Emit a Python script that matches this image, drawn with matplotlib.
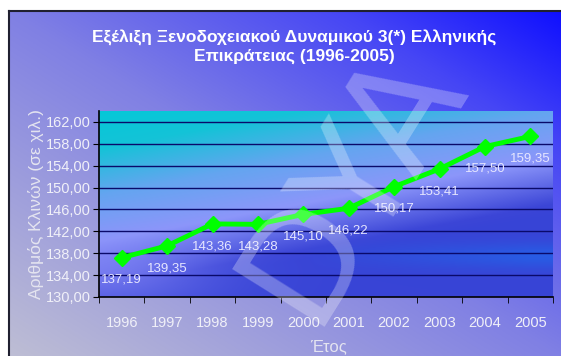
import numpy as np
import matplotlib
matplotlib.use("Agg")
import matplotlib.pyplot as plt
from matplotlib.ticker import FixedLocator, FuncFormatter

years = ["1996", "1997", "1998", "1999", "2000", "2001", "2002", "2003", "2004", "2005"]
beds = [137.19, 139.35, 143.36, 143.28, 145.10, 146.22, 150.17, 153.41, 157.50, 159.35]
y_ticks = [130, 134, 138, 142, 146, 150, 154, 158, 162]

title = "Εξέλιξη Ξενοδοχειακού Δυναμικού 3(*) Ελληνικής\nΕπικράτειας (1996-2005)"
y_label = "Αριθμός Κλινών (σε χιλ.)"
x_label = "Έτος"

plt.rcParams['font.family'] = ['Liberation Sans', 'DejaVu Sans']

W, H = 561, 356
fig = plt.figure(figsize=(W / 100, H / 100), dpi=100)
fig.patch.set_facecolor("white")


def px(x0, y0, x1, y1):
    # pixel box (top-left origin) -> figure fraction rect
    return [x0 / W, 1 - y1 / H, (x1 - x0) / W, (y1 - y0) / H]


def lerp_colors(t, stops):
    t = np.clip(t, 0, 1)
    pos = np.array([s[0] for s in stops])
    cols = np.array([s[1] for s in stops], dtype=float) / 255.0
    out = np.zeros(t.shape + (3,))
    for c in range(3):
        out[..., c] = np.interp(t, pos, cols[:, c])
    return out


# chart-area background: diagonal grey-lavender -> blue
bg = fig.add_axes(px(9, 11, W + 2, H + 2))
gx, gy = np.meshgrid(np.linspace(0, 1, 300), np.linspace(0, 1, 200))
t = (gx + (1 - gy)) / 2  # gy=0 at top
bg_img = lerp_colors(t, [(0.0, (190, 190, 212)), (0.5, (128, 128, 228)),
                         (0.8, (70, 70, 245)), (1.0, (15, 15, 255))])
bg.imshow(bg_img, aspect="auto", extent=(0, 1, 0, 1), origin="upper")
bg.set_xlim(0, 1)
bg.set_ylim(0, 1)
bg.set_xticks([])
bg.set_yticks([])
for side in ("right", "bottom"):
    bg.spines[side].set_visible(False)
for side in ("left", "top"):
    bg.spines[side].set_color("#202030")
    bg.spines[side].set_linewidth(1.5)

# plot area
ax = fig.add_axes(px(99, 111, 553, 297))
ax.patch.set_alpha(0)
px_x, px_y = np.meshgrid(np.linspace(0, 1, 300), np.linspace(0, 1, 200))
d = px_y - 0.45 * px_x  # px_y=1 at top
plot_img = lerp_colors(d, [(-0.45, (25, 95, 150)), (-0.2, (40, 60, 210)), (0.05, (60, 70, 215)),
                           (0.3, (140, 150, 250)), (0.55, (100, 165, 240)),
                           (0.8, (20, 195, 215)), (1.0, (5, 200, 215))])
streak = np.exp(-((px_y - 0.22) / 0.07) ** 2) * np.clip((px_x - 0.45) * 2, 0, 1)
plot_img = plot_img * (1 - 0.5 * streak[..., None]) + np.array([0.1, 0.45, 0.95]) * 0.5 * streak[..., None]
corner = np.exp(-(((px_x - 0.0) / 0.25) ** 2 + ((px_y - 0.12) / 0.2) ** 2))
plot_img = plot_img * (1 - 0.6 * corner[..., None]) + np.array([0.55, 0.56, 0.98]) * 0.6 * corner[..., None]
ax.imshow(plot_img, aspect="auto", extent=(-0.5, len(years) - 0.5, 130, 164),
          origin="lower", zorder=0)

x = np.arange(len(years))
ax.set_xlim(-0.5, len(years) - 0.5)
ax.set_ylim(130, 164)

for v in y_ticks[1:]:
    ax.axhline(v, color="#0a0a6a", lw=1.0, zorder=1)

ax.plot(x, beds, color="#00ff00", lw=3.5, marker="D", markersize=8,
        markeredgecolor="#00ff00", zorder=3)
for xi, v in zip(x, beds):
    ax.annotate(f"{v:.2f}".replace(".", ","), (xi, v), xytext=(0, -16),
                textcoords="offset points", ha="center", va="center",
                color="#e6e6ff", fontsize=9.5, zorder=4)

ax.yaxis.set_major_locator(FixedLocator(y_ticks))
ax.yaxis.set_major_formatter(FuncFormatter(lambda v, p: f"{v:.2f}".replace(".", ",")))
ax.xaxis.set_major_locator(FixedLocator(x))
ax.set_xticklabels(years)
ax.xaxis.set_minor_locator(FixedLocator(np.arange(len(years) + 1) - 0.5))
ax.tick_params(axis="x", which="major", length=0, pad=14, labelsize=10.5, labelcolor="#f0f0f8")
ax.tick_params(axis="x", which="minor", length=4, color="black", direction="out")
ax.tick_params(axis="y", length=4, color="black", labelsize=10.5, labelcolor="#f0f0f8", pad=2)
for side in ("top", "right"):
    ax.spines[side].set_visible(False)
for side in ("left", "bottom"):
    ax.spines[side].set_color("black")
    ax.spines[side].set_linewidth(1.2)

fig.text(294 / W, 1 - 47 / H, title, ha="center", va="center", color="white",
         fontsize=12.5, fontweight="bold", linespacing=1.3)
fig.text(36 / W, 1 - 204 / H, y_label, rotation=90, ha="center", va="center",
         color="#e4e4f0", fontsize=12.5)
fig.text(328 / W, 1 - 347 / H, x_label, ha="center", va="center",
         color="#e4e4f0", fontsize=12)

# translucent watermark
fig.text(352 / W, 1 - 182 / H, "DYA", rotation=58, ha="center", va="center",
         color="white", alpha=0.28, fontsize=108, family="DejaVu Sans", zorder=10)

fig.savefig("out.png", dpi=100, facecolor=fig.get_facecolor())
